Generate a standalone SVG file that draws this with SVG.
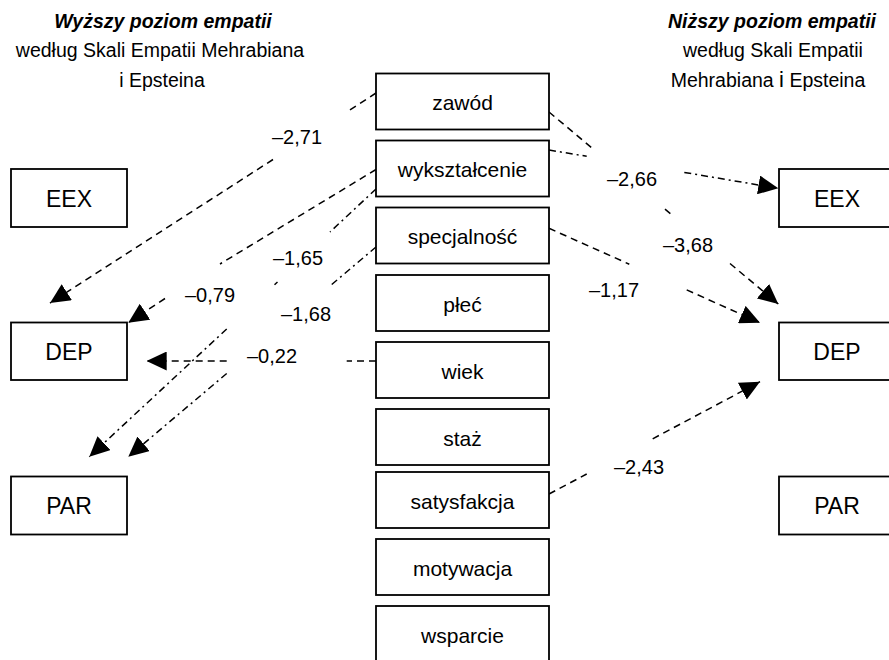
<svg xmlns="http://www.w3.org/2000/svg" width="889" height="660" viewBox="0 0 889 660">
<style>
text{font-family:"Liberation Sans",Arial,Helvetica,sans-serif;fill:#000}
.box{fill:#fff;stroke:#000;stroke-width:1.8}
.c{font-size:21px;text-anchor:middle}
.s{font-size:23px;text-anchor:middle}
.h{font-size:19.5px;text-anchor:middle}
.ht{font-size:19.5px;text-anchor:middle;font-weight:bold;font-style:italic}
.lbl{font-size:20px;text-anchor:middle}
.dash{fill:none;stroke:#000;stroke-width:1.5;stroke-dasharray:7,5}
.dd{fill:none;stroke:#000;stroke-width:1.5;stroke-dasharray:7,4,2,4}
</style>
<defs>
<marker id="ah" markerUnits="userSpaceOnUse" markerWidth="20" markerHeight="19" refX="20" refY="9.5" orient="auto">
<path d="M0,0 L20,9.5 L0,19 z" fill="#000" stroke="none"/>
</marker>
</defs>

<g id="header-left">
<text class="ht" x="163" y="28">Wyższy poziom empatii</text>
<text class="h" x="160" y="57">według Skali Empatii Mehrabiana</text>
<text class="h" x="162" y="87">i Epsteina</text>
</g>
<g id="header-right">
<text class="ht" x="772" y="28">Niższy poziom empatii</text>
<text class="h" x="773" y="57">według Skali Empatii</text>
<text class="h" x="768" y="87">Mehrabiana <tspan font-size="22">i</tspan> Epsteina</text>
</g>

<g id="connectors">
<!-- zawód -> DEP (left) -2,71 -->
<line class="dash" x1="376" y1="93" x2="346.7" y2="112"/>
<line class="dash" x1="273" y1="159.5" x2="50" y2="303" marker-end="url(#ah)"/>
<!-- wykształcenie -> DEP (left) -0,79 -->
<line class="dash" x1="376" y1="169.5" x2="220" y2="264"/>
<line class="dash" x1="165" y1="298.5" x2="128.3" y2="322.7" marker-end="url(#ah)"/>
<!-- wykształcenie -> PAR (left) -1,65 -->
<line class="dd" x1="376" y1="189" x2="330" y2="232"/>
<line class="dd" x1="277.5" y1="282" x2="274.5" y2="284.8"/>
<line class="dd" x1="226.7" y1="329" x2="89.3" y2="456.7" marker-end="url(#ah)"/>
<!-- specjalność -> PAR (left) -1,68 -->
<line class="dd" x1="376" y1="247" x2="331.7" y2="284.5"/>
<line class="dd" x1="226.7" y1="373.5" x2="128.3" y2="456.7" marker-end="url(#ah)"/>
<!-- wiek -> DEP (left) -0,22 -->
<line class="dash" x1="376" y1="361" x2="346.7" y2="361"/>
<line class="dash" x1="226.7" y1="361" x2="146.7" y2="361" marker-end="url(#ah)"/>
<!-- wykształcenie -> EEX (right) -2,66 -->
<line class="dd" x1="549" y1="150" x2="586.7" y2="156.3"/>
<line class="dd" x1="684.3" y1="172.4" x2="778.3" y2="188.3" marker-end="url(#ah)"/>
<!-- zawód -> DEP (right) -3,68 -->
<line class="dash" x1="549" y1="112" x2="595" y2="150.5"/>
<line class="dash" x1="665" y1="209.1" x2="671.7" y2="214.7"/>
<line class="dash" x1="730" y1="263.5" x2="778.3" y2="304" marker-end="url(#ah)"/>
<!-- specjalność -> DEP (right) -1,17 -->
<line class="dash" x1="549" y1="228.3" x2="629.3" y2="264.2"/>
<line class="dash" x1="686.7" y1="289.9" x2="760" y2="322.7" marker-end="url(#ah)"/>
<!-- satysfakcja -> DEP (right) -2,43 -->
<line class="dash" x1="549" y1="494" x2="586.7" y2="474"/>
<line class="dash" x1="652.7" y1="438.8" x2="760" y2="381.7" marker-end="url(#ah)"/>
</g>

<g id="labels">
<text class="lbl" x="297" y="144">–2,71</text>
<text class="lbl" x="298" y="265">–1,65</text>
<text class="lbl" x="210" y="302">–0,79</text>
<text class="lbl" x="306" y="321">–1,68</text>
<text class="lbl" x="272" y="363">–0,22</text>
<text class="lbl" x="632" y="186">–2,66</text>
<text class="lbl" x="688" y="252">–3,68</text>
<text class="lbl" x="614" y="297">–1,17</text>
<text class="lbl" x="639" y="474">–2,43</text>
</g>

<g id="left-EEX"><rect class="box" x="11" y="169" width="116" height="58"/><text class="s" x="69" y="206.8">EEX</text></g>
<g id="left-DEP"><rect class="box" x="11" y="322.5" width="116" height="57.5"/><text class="s" x="69" y="360">DEP</text></g>
<g id="left-PAR"><rect class="box" x="11" y="476.5" width="116" height="58"/><text class="s" x="69" y="514">PAR</text></g>

<g id="right-EEX"><rect class="box" x="779" y="169" width="116" height="58"/><text class="s" x="837" y="206.8">EEX</text></g>
<g id="right-DEP"><rect class="box" x="779" y="322.5" width="116" height="57.5"/><text class="s" x="837" y="360">DEP</text></g>
<g id="right-PAR"><rect class="box" x="779" y="476.5" width="116" height="58"/><text class="s" x="837" y="514">PAR</text></g>

<g id="zawod"><rect class="box" x="376" y="73.5" width="173" height="56"/><text class="c" x="462.5" y="110">zawód</text></g>
<g id="wyksztalcenie"><rect class="box" x="376" y="140.5" width="173" height="56"/><text class="c" x="462.5" y="177">wykształcenie</text></g>
<g id="specjalnosc"><rect class="box" x="376" y="207.5" width="173" height="56"/><text class="c" x="462.5" y="244">specjalność</text></g>
<g id="plec"><rect class="box" x="376" y="275" width="173" height="56"/><text class="c" x="462.5" y="311.5">płeć</text></g>
<g id="wiek"><rect class="box" x="376" y="342" width="173" height="56"/><text class="c" x="462.5" y="378.5">wiek</text></g>
<g id="staz"><rect class="box" x="376" y="409" width="173" height="56"/><text class="c" x="462.5" y="445.5">staż</text></g>
<g id="satysfakcja"><rect class="box" x="376" y="472" width="173" height="56"/><text class="c" x="462.5" y="508.5">satysfakcja</text></g>
<g id="motywacja"><rect class="box" x="376" y="539" width="173" height="56"/><text class="c" x="462.5" y="575.5">motywacja</text></g>
<g id="wsparcie"><rect class="box" x="376" y="606" width="173" height="57"/><text class="c" x="462.5" y="643">wsparcie</text></g>
</svg>
